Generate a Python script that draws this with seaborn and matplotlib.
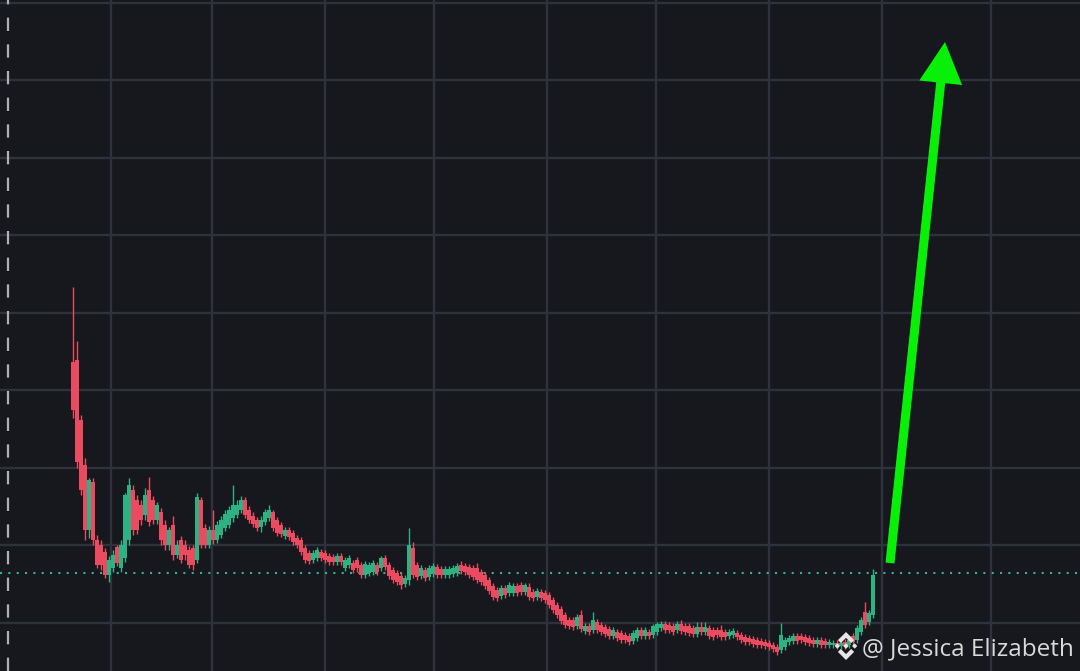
import numpy as np
import pandas as pd
import matplotlib
matplotlib.use("Agg")
import matplotlib.pyplot as plt
import seaborn as sns
from matplotlib.patches import Polygon

# ---------------- data (price units, one candle per session) ----------------
open_ = [309,311,251,206,141,189,131,126,119,96,
         103,124,103,113,131,181,171,166,156,181,
         171,151,159,146,126,146,116,131,126,121,
         123,111,171,143,126,141,131,136,143,146,
         153,156,161,171,161,155,151,144,149,153,
         159,151,146,135,141,138,133,131,123,118,
         111,113,119,118,115,114,109,115,103,106,
         108,111,106,96,98,99,106,103,113,106,
         101,98,95,87,91,123,106,95,101,94,
         97,104,102,96,96,97,98,106,105,104,
         103,103,99,96,91,85,81,75,83,78,
         78,85,86,79,84,79,74,79,78,76,
         71,66,62,56,51,51,45,56,40,45,
         41,49,46,44,42,35,39,38,36,35,
         30,33,41,35,39,36,39,43,47,46,
         45,41,47,45,45,43,37,44,39,43,
         41,41,41,39,35,36,38,36,34,33,
         32,31,30,29,28,26,24,21,24,29,
         30,35,35,34,33,31,27,31,30,26,
         26,28,25,29,26,35,31,39,59,49,
         56]
close = [261,209,181,141,191,131,106,106,96,111,
         116,108,126,176,186,141,141,151,176,149,
         151,166,131,126,141,116,126,111,116,106,
         106,174,126,126,141,131,146,151,157,161,
         166,166,171,156,151,147,143,151,159,161,
         143,138,137,141,134,129,126,119,111,110,
         118,121,113,111,109,109,115,109,111,113,
         101,103,96,107,106,108,99,113,104,95,
         91,89,86,93,126,96,94,103,93,103,
         105,96,96,102,102,103,105,100,99,96,
         94,91,89,85,80,74,73,83,76,86,
         85,78,79,86,74,73,80,73,71,66,
         61,56,50,46,45,44,54,42,45,39,
         51,41,39,37,35,41,33,31,31,29,
         38,41,35,41,35,45,47,47,41,41,
         39,47,40,39,38,37,44,39,44,35,
         34,36,34,34,39,40,34,31,29,29,
         27,26,26,25,24,22,19,36,31,33,
         35,30,31,29,28,27,31,26,26,29,
         28,25,28,25,31,29,43,51,46,58,
         96]
high = [384,330,256,213,193,193,136,131,123,115,
        121,126,131,178,193,186,176,171,183,194,
        175,169,163,151,144,155,131,135,131,125,
        126,178,174,147,145,161,150,155,161,165,
        186,171,175,174,165,159,154,155,162,166,
        161,154,149,144,144,141,136,134,126,121,
        121,124,122,121,118,117,118,118,114,116,
        111,114,109,110,109,111,109,115,116,109,
        104,101,98,96,143,129,109,106,104,106,
        108,107,105,105,105,106,108,110,108,107,
        106,108,102,99,94,88,84,86,86,89,
        88,88,89,88,88,82,83,82,81,79,
        74,69,65,59,54,54,57,61,48,48,
        59,52,49,47,45,44,42,41,39,38,
        41,44,44,44,42,47,49,50,50,49,
        48,50,51,48,48,46,49,49,49,46,
        44,44,46,42,42,43,41,39,37,36,
        35,34,33,32,31,29,27,48,34,36,
        38,38,38,37,36,34,34,34,33,32,
        31,31,31,32,34,38,46,54,69,61,
        102]
low = [253,203,176,131,133,126,103,101,93,89,
       99,105,99,109,126,136,137,146,151,145,
       147,147,126,121,121,111,113,108,111,103,
       101,108,123,123,123,127,128,133,140,143,
       149,153,158,153,148,144,140,139,146,150,
       140,135,134,132,131,126,123,116,108,107,
       108,110,110,108,106,106,106,106,100,103,
       98,99,93,93,95,96,96,100,101,92,
       88,86,82,84,86,93,91,92,90,91,
       94,93,93,93,93,94,95,97,96,93,
       91,88,86,82,77,71,70,72,73,75,
       75,75,76,76,71,70,71,70,68,63,
       58,53,47,43,42,41,42,39,37,36,
       38,38,36,34,32,32,30,28,28,26,
       27,30,32,32,32,33,36,40,38,38,
       36,38,37,36,35,34,34,36,36,32,
       31,33,31,31,32,33,31,28,26,26,
       24,23,23,22,21,19,16,18,21,26,
       27,27,28,26,25,24,24,23,23,23,
       23,22,22,22,23,26,28,36,43,46,
       53]

last_price = 98
price_grid = [48.5, 126, 203.5, 281, 358.5, 436, 513.5, 591, 668.5]
session_grid = [9.5, 34.75, 63, 90.25, 118.5, 145.75, 174, 202.25, 229.5]
marker_session = -16.25
arrow_start = (204.25, 108)
arrow_end = (218.0, 629)
watermark = "@ Jessica Elizabeth"

# ---------------- style ----------------
BG = "#17181d"
GRID = "#2e323d"
UP = "#2db383"
DOWN = "#ea4b61"
sns.set_theme(style="dark", rc={"axes.facecolor": BG, "figure.facecolor": BG,
                                 "savefig.facecolor": BG})
plt.rcParams["font.family"] = ["Open Sans", "DejaVu Sans"]

df = pd.DataFrame({"open": open_, "high": high, "low": low, "close": close})
df["t"] = np.arange(len(df))
df["up"] = df["close"] >= df["open"]
df["color"] = np.where(df["up"], UP, DOWN)

fig = plt.figure(figsize=(10.8, 6.71), dpi=100)
ax = fig.add_axes([0, 0, 1, 1])
ax.set_xlim(-18.25, 251.75)
ax.set_ylim(0, 671)
ax.set_facecolor(BG)
sns.despine(ax=ax, left=True, bottom=True)
ax.set_xticks([])
ax.set_yticks([])

for g in price_grid:
    ax.axhline(g, color=GRID, lw=1.7, zorder=0)
for g in session_grid:
    ax.axvline(g, color=GRID, lw=1.7, zorder=0)

ax.axvline(marker_session, color="#b0b0b0", lw=1.6, ls=(0, (6, 6)), zorder=1)

# candles
ax.vlines(df["t"], df["low"], df["high"], colors=df["color"], lw=1.0, zorder=3)
body_bottom = np.minimum(df["open"], df["close"])
body_height = np.maximum(np.abs(df["close"] - df["open"]), 1.8)
ax.bar(df["t"], body_height, bottom=body_bottom, width=0.78,
       color=df["color"], linewidth=0, zorder=3)

# last price line
ax.axhline(last_price, color="#33b393", lw=1.5, ls=(0, (1, 3)), zorder=2)

# arrow
ax.annotate("", xy=arrow_end, xytext=arrow_start,
            arrowprops=dict(arrowstyle="simple,head_length=2.95,head_width=3.1,tail_width=0.65",
                            color="#08f008", lw=0, shrinkA=0, shrinkB=0,
                            mutation_scale=10), zorder=6)

# watermark: logo + text
def P(x, y):
    return (x / 1080, 1 - y / 671)

cx, cy, s = 846, 646, 14
def shape(pts):
    return [P(cx + s * a, cy - s * b) for a, b in pts]

logo_parts = [
    [(0, 0.2), (0.2, 0), (0, -0.2), (-0.2, 0)],
    [(-0.62, 0.19), (-0.43, 0), (-0.62, -0.19), (-0.81, 0)],
    [(0.62, 0.19), (0.81, 0), (0.62, -0.19), (0.43, 0)],
    [(0, 1), (0.58, 0.42), (0.37, 0.21), (0, 0.58), (-0.37, 0.21), (-0.58, 0.42)],
    [(0, -1), (0.58, -0.42), (0.37, -0.21), (0, -0.58), (-0.37, -0.21), (-0.58, -0.42)],
]
for part in logo_parts:
    ax.add_patch(Polygon(shape(part), closed=True, transform=ax.transAxes,
                         facecolor="#e6e6e6", edgecolor="none", zorder=7))

ax.text(*P(862, 655), watermark, transform=ax.transAxes, fontsize=17.5,
        color="#d9d9d9", ha="left", va="baseline", zorder=7)

fig.savefig("out.png", dpi=100, facecolor=BG)
